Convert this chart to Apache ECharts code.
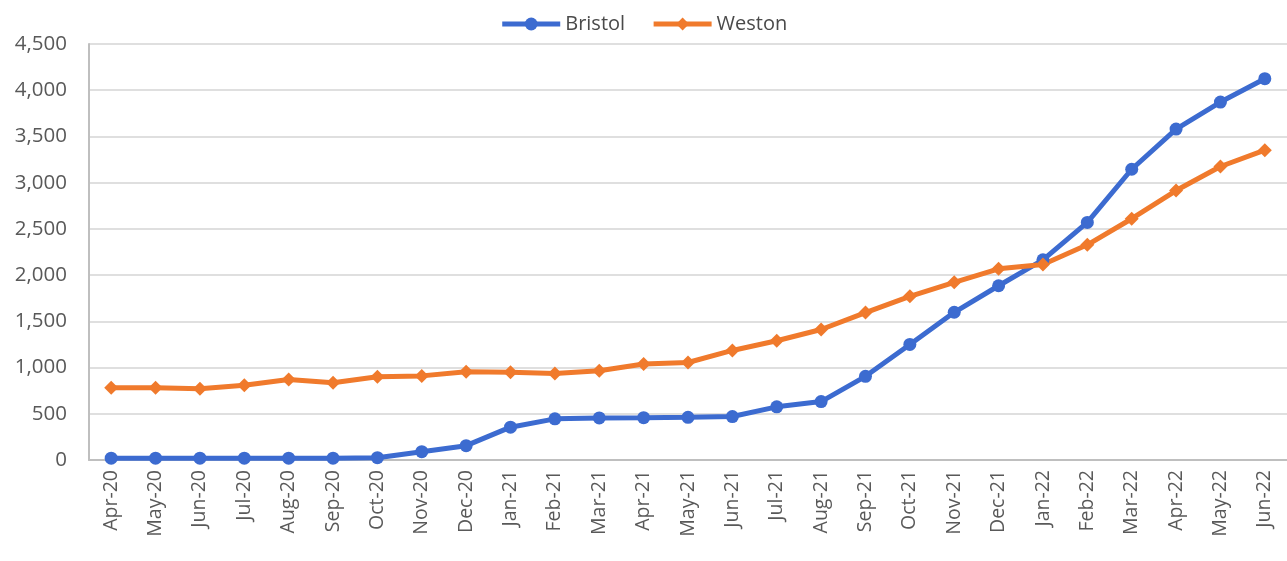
<!DOCTYPE html>
<html>
<head>
<meta charset="utf-8">
<script src="https://cdn.jsdelivr.net/npm/echarts@6/dist/echarts.min.js"></script>
<style>
  html, body { margin: 0; padding: 0; background: #fff; }
  #chart { width: 1287px; height: 561px; }
</style>
</head>
<body>
<div id="chart"></div>
<script>
// month labels along the bottom
const months = ['Apr-20', 'May-20', 'Jun-20', 'Jul-20', 'Aug-20', 'Sep-20', 'Oct-20', 'Nov-20', 'Dec-20',
  'Jan-21', 'Feb-21', 'Mar-21', 'Apr-21', 'May-21', 'Jun-21', 'Jul-21', 'Aug-21', 'Sep-21', 'Oct-21',
  'Nov-21', 'Dec-21', 'Jan-22', 'Feb-22', 'Mar-22', 'Apr-22', 'May-22', 'Jun-22']
const bristol = [20, 20, 20, 20, 20, 20, 25, 90, 155, 355, 445, 455, 458, 462, 470, 575, 632, 905,
  1250, 1598, 1885, 2165, 2570, 3145, 3580, 3872, 4125]
const weston = [782, 782, 772, 808, 870, 835, 900, 910, 955, 950, 935, 965, 1038, 1055, 1185, 1290,
  1412, 1595, 1770, 1922, 2068, 2115, 2328, 2610, 2915, 3175, 3352]

const chart = echarts.init(document.getElementById('chart'))
const txt = '#595959'
const font = 'Open Sans'

chart.setOption({
  animation: false,
  backgroundColor: '#fff',
  legend: {
    top: 9,
    left: 'center',
    itemWidth: 58,
    itemHeight: 16,
    itemGap: 26,
    lineStyle: { width: 5 },
    textStyle: { color: '#4a4a4a', fontSize: 20, fontFamily: font },
    data: ['Bristol', 'Weston']
  },
  grid: {
    left: 89,
    width: 1199,
    top: 44,
    bottom: 101,
    containLabel: false
  },
  xAxis: {
    type: 'category',
    boundaryGap: true,
    data: months,
    axisLine: { lineStyle: { color: '#bfbfbf', width: 2 } },
    axisTick: { show: false },
    axisLabel: {
      rotate: 90,
      interval: 0,
      margin: 10,
      color: txt,
      fontSize: 19.5,
      fontFamily: font
    }
  },
  yAxis: {
    type: 'value',
    min: 0,
    max: 4500,
    interval: 500,
    axisLine: { show: true, lineStyle: { color: '#bfbfbf', width: 2 } },
    axisTick: { show: false },
    splitLine: { lineStyle: { color: '#d4d4d4', width: 1.5 } },
    axisLabel: {
      margin: 22,
      color: txt,
      fontSize: 20.5,
      fontFamily: font,
      formatter: v => v.toLocaleString('en-US')
    }
  },
  series: [
    {
      name: 'Bristol',
      type: 'line',
      data: bristol,
      symbol: 'circle',
      symbolSize: 13,
      itemStyle: { color: '#3c6bd0' },
      lineStyle: { width: 5, color: '#3c6bd0' }
    },
    {
      name: 'Weston',
      type: 'line',
      data: weston,
      symbol: 'diamond',
      symbolSize: 14,
      itemStyle: { color: '#f07a2c' },
      lineStyle: { width: 5, color: '#f07a2c' }
    }
  ]
})
</script>
</body>
</html>
